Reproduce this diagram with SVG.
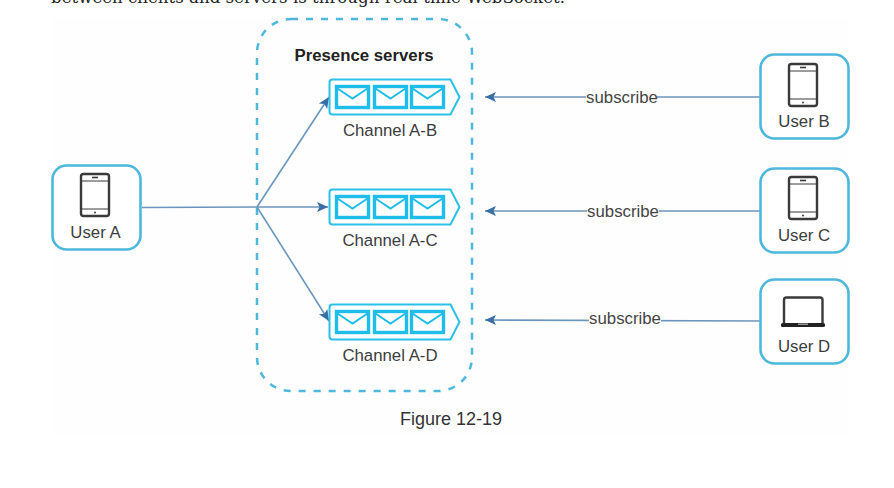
<svg xmlns="http://www.w3.org/2000/svg" width="894" height="488" viewBox="0 0 894 488">
<style>
.t{font-family:"Liberation Sans",Arial,sans-serif;font-size:16.800px;fill:#3d3d3d;text-anchor:middle}
.sub{font-family:"Liberation Sans",Arial,sans-serif;font-size:16.800px;fill:#444;text-anchor:middle}
.user{fill:#fff;stroke:#4db8dc;stroke-width:2.600}
.dev{fill:none;stroke:#3a3a3a;stroke-width:2.400}
.con{fill:none;stroke:#6a96bd;stroke-width:1.600}
.q{fill:#fff;stroke:#2cc0e8;stroke-width:2}
.m{fill:#fff;stroke:#1fbdea;stroke-width:3.400}
.f{fill:none;stroke:#1fbdea;stroke-width:2}
.bg{fill:#fefefe}
</style>
<defs>
<marker id="ah" markerUnits="userSpaceOnUse" markerWidth="12" markerHeight="12" refX="11" refY="6" orient="auto"><path d="M0 1 L11 6 L0 11 L2.500 6 Z" fill="#3a6fa5"/></marker>
<g id="phone"><rect x="-14" y="-21" width="28" height="42" rx="2.500" class="dev"/><path d="M-14 -14 H14 M-14 14 H14" fill="none" stroke="#3a3a3a" stroke-width="1.200"/><path d="M-3 -17.500 H3" stroke="#3a3a3a" stroke-width="1.600"/><circle cx="0" cy="17.500" r="1" fill="#3a3a3a"/></g>
<g id="queue"><path class="q" d="M3 0 H121 L130 17.500 L121 35 H3 Q0 35 0 32 V3 Q0 0 3 0 Z"/>
<g id="env"><rect x="7" y="7" width="32" height="21" class="m"/><path class="f" d="M8 9 L23 19 L38 9"/></g>
<use href="#env" x="38"/><use href="#env" x="75"/></g>
</defs>
<rect width="894" height="488" fill="#fff"/>
<rect x="52" y="18" width="796" height="417" class="bg"/>
<text x="51" y="3" font-family="'DejaVu Serif','Liberation Serif',serif" font-size="17" fill="#222" textLength="514" lengthAdjust="spacingAndGlyphs">between clients and servers is through real-time WebSocket.</text>
<g id="presence-servers"><rect x="257" y="19" width="215" height="372" rx="34" fill="none" stroke="#4db8dc" stroke-width="2.500" stroke-dasharray="7 8"/>
<text x="364" y="61" font-family="'Liberation Sans',Arial,sans-serif" font-size="16.800" font-weight="700" fill="#222" text-anchor="middle">Presence servers</text></g>
<g id="connectors">
<path class="con" d="M142 207.500 L257 207"/>
<path class="con" d="M257 207 L329 97" marker-end="url(#ah)"/>
<path class="con" d="M257 207 H328" marker-end="url(#ah)"/>
<path class="con" d="M257 207 L329 321" marker-end="url(#ah)"/>
<path class="con" d="M760 97 H485" marker-end="url(#ah)"/>
<path class="con" d="M760 211 H485" marker-end="url(#ah)"/>
<path class="con" d="M760 321 L485 320" marker-end="url(#ah)"/>
<g><rect class="bg" x="586" y="90" width="71" height="16"/><rect class="bg" x="587" y="204" width="72" height="16"/><rect class="bg" x="589" y="312" width="72" height="16"/>
<text class="sub" x="622" y="103">subscribe</text><text class="sub" x="623" y="217">subscribe</text><text class="sub" x="625" y="324">subscribe</text></g>
</g>
<g id="channel-a-b"><use href="#queue" x="329.500" y="79.500"/><text class="t" x="390" y="136">Channel A-B</text></g>
<g id="channel-a-c"><use href="#queue" x="329.500" y="189.500"/><text class="t" x="390" y="246">Channel A-C</text></g>
<g id="channel-a-d"><use href="#queue" x="329.500" y="304.500"/><text class="t" x="390" y="361">Channel A-D</text></g>
<g id="user-a"><rect class="user" x="52.500" y="165.500" width="88" height="84" rx="14"/><use href="#phone" x="95" y="195"/><text class="t" x="95.500" y="238">User A</text></g>
<g id="user-b"><rect class="user" x="760.500" y="54.500" width="88" height="84" rx="14"/><use href="#phone" x="803" y="85"/><text class="t" x="804" y="127">User B</text></g>
<g id="user-c"><rect class="user" x="760.500" y="168.500" width="88" height="84" rx="14"/><use href="#phone" x="803" y="198"/><text class="t" x="804" y="241">User C</text></g>
<g id="user-d"><rect class="user" x="760.500" y="279.500" width="88" height="84" rx="14"/><path class="dev" d="M784 323 V300 Q784 297.500 786.500 297.500 H820 Q822.500 297.500 822.500 300 V323"/><rect x="781" y="323" width="44" height="4" rx="1.500" fill="#222"/><rect x="798" y="323.500" width="10" height="1.500" fill="#999"/><text class="t" x="804" y="352">User D</text></g>
<text x="451" y="425" font-family="'Liberation Sans',Arial,sans-serif" font-size="18" fill="#333" text-anchor="middle">Figure 12-19</text>
</svg>
